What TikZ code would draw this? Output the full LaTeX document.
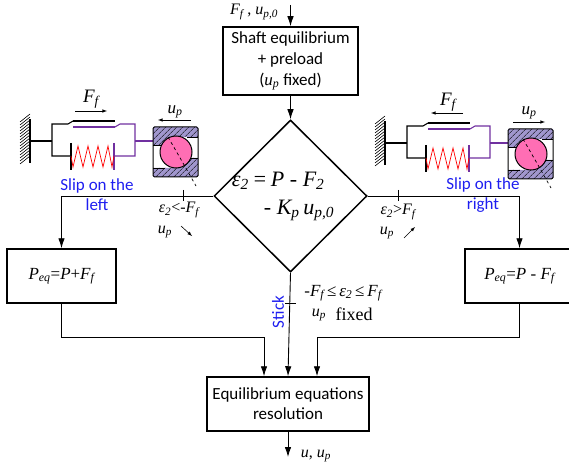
\documentclass[tikz,border=0pt]{standalone}
\usepackage{fontspec}
\setmainfont{Carlito}
\newfontfamily\eqfont{Liberation Serif}
\usetikzlibrary{arrows.meta}
\usetikzlibrary{patterns.meta}
\usetikzlibrary{shapes.geometric}
\definecolor{slipblue}{RGB}{30,30,240}
\definecolor{rodpurple}{RGB}{112,48,160}
\definecolor{racegrey}{RGB}{160,150,205}
\definecolor{ballpink}{RGB}{255,110,180}
\newcommand{\sym}[2]{{\itshape #1}\textsubscript{\itshape #2}}
\tikzset{
    flowbox/.style={draw, line width=1.5pt, fill=white, align=center, inner sep=0pt},
    flow/.style={-{Latex[length=10pt,width=6.5pt]}, line width=0.9pt},
    small arrow/.style={-latex, line width=0.6pt},
    quantity/.style={font=\eqfont\fontsize{16}{18}\selectfont, inner sep=0pt},
    sliplabel/.style={text=slipblue, font=\fontsize{17}{20}\selectfont, align=center, inner sep=0pt},
    racefill/.style={fill=racegrey, postaction={pattern={Lines[angle=45,distance=4pt,line width=0.5pt]}}},
    mechanism/.pic={
        % wall
        \draw[line width=1.6pt] (30,119) -- (30,163);
        \foreach \y in {122,125,...,164}
            \draw[line width=0.6pt] (20,\y) -- (30,\y-8);
        \draw[line width=1.6pt] (30,141) -- (52,141);
        % fork and friction pad
        \draw[line width=1.1pt] (71,156) -- (52,156) -- (52,124) -- (68,124) -- (73,121);
        \draw[line width=2pt] (73,121) -- (115,121);
        \draw[rodpurple, line width=2pt] (73,127) -- (115,127);
        \draw[rodpurple, line width=1.1pt] (115,127) -- (120,124) -- (135,124) -- (135,156) -- (114,156);
        \draw[rodpurple, line width=1.1pt] (135,141) -- (153,141);
        % spring
        \draw[line width=1.1pt] (71,143) -- (71,170);
        \draw[rodpurple, line width=1.4pt] (114,143) -- (114,170);
        \draw[red, line width=0.7pt] (71,156) -- (73,167) -- (78,146) -- (83,167) -- (88,146)
            -- (93,167) -- (98,146) -- (103,167) -- (108,146) -- (112,167) -- (114,156);
        % bearing
        \path[racefill] (153,127) -- (198,127) -- (198,137) -- (176,137) -- (165,145) -- (153,145) -- cycle;
        \path[racefill] (153,177) -- (198,177) -- (198,158) -- (187,158) -- (176,168) -- (153,168) -- cycle;
        \draw[line width=1pt, rounded corners=1.5pt] (153,127) rectangle (198,177);
        \draw[line width=0.8pt] (153,145) -- (165,145) (187,137) -- (198,137)
            (153,168) -- (165,168) (187,158) -- (198,158);
        \draw[line width=1pt, fill=ballpink] (176,152) circle (16);
        \draw[line width=0.7pt, dashed] (168,137) -- (183,163) -- (196,186);
    },
}
\begin{document}
\begin{tikzpicture}[x=1pt, y=-1pt]
    \useasboundingbox (0,0) rectangle (569,470);

    \pic at (0,0) {mechanism};
    \pic at (355,2) {mechanism};

    \node[flowbox, minimum width=135pt, minimum height=68pt, font=\fontsize{17}{21}\selectfont] (shaft) at (290.5,61)
        {Shaft equilibrium\\+ preload\\({\eqfont\itshape u\textsubscript{p}} fixed)};
    \node[draw, diamond, line width=1.5pt, inner sep=0pt, minimum width=153pt, minimum height=152pt] (split) at (290.5,196) {};
    \node[inner sep=0pt, align=left, font=\eqfont\fontsize{22}{28}\selectfont] (balance) at (283,196)
        {\itshape ε\textsubscript{2}\,=\,P - F\textsubscript{2}\\
         \hspace*{32pt}\itshape - K\textsubscript{p}\,u\textsubscript{p,0}};
    \node[flowbox, minimum width=109pt, minimum height=54pt, font=\eqfont\fontsize{17}{20}\selectfont] (pleft) at (61.5,276)
        {\sym{P}{eq}={\itshape P}+\sym{F}{f}};
    \node[flowbox, minimum width=109pt, minimum height=54pt, font=\eqfont\fontsize{17}{20}\selectfont] (pright) at (519.5,276)
        {\sym{P}{eq}={\itshape P} - \sym{F}{f}};
    \node[flowbox, minimum width=162pt, minimum height=54pt, font=\fontsize{17}{20}\selectfont] (solve) at (288,404)
        {Equilibrium equations\\resolution};

    \coordinate (infeed) at (290.5,5);
    \coordinate (outfeed) at (288,457);
    \coordinate (joinL) at (264,337);
    \coordinate (joinR) at (317,337);

    \draw[flow] (infeed) -- (shaft.north);
    \draw[flow] (shaft.south) -- (split.north);
    \draw[flow] (split.west) -| (pleft.north);
    \draw[flow] (split.east) -| (pright.north);
    \draw[flow] (split.south) -- (solve.north);
    \draw[flow] (pleft.south) |- (joinL) -- (joinL |- solve.north);
    \draw[flow] (pright.south) |- (joinR) -- (joinR |- solve.north);
    \draw[flow] (solve.south) -- (outfeed);

    % ticks on the branches
    \draw[line width=0.6pt] (183,190) -- (183,201);
    \draw[line width=0.6pt] (398,190) -- (398,201);
    \draw[line width=0.6pt] (285,303) -- (296,303);

    % labels over the mechanisms
    \node[quantity, font=\eqfont\fontsize{19}{22}\selectfont] (forceL) at (91,99) {\sym{F}{f}};
    \coordinate (forceLa) at (75,111);
    \coordinate (forceLb) at (107,111);
    \draw[small arrow] (forceLa) -- (forceLb);
    \node[quantity, font=\eqfont\fontsize{17}{20}\selectfont] (upL) at (175,112) {\sym{u}{p}};
    \coordinate (upLa) at (191,120);
    \coordinate (upLb) at (158,120);
    \draw[small arrow] (upLa) -- (upLb);
    \node[quantity, font=\eqfont\fontsize{19}{22}\selectfont] (forceR) at (448,102) {\sym{F}{f}};
    \coordinate (forceRa) at (463,113);
    \coordinate (forceRb) at (431,113);
    \draw[small arrow] (forceRa) -- (forceRb);
    \node[quantity, font=\eqfont\fontsize{17}{20}\selectfont] (upR) at (529,113) {\sym{u}{p}};
    \coordinate (upRa) at (513,122);
    \coordinate (upRb) at (545,122);
    \draw[small arrow] (upRa) -- (upRb);

    \node[sliplabel] (slipL) at (97,195) {Slip on the\\left};
    \node[sliplabel] (slipR) at (483,195) {Slip on the\\right};
    \node[sliplabel, rotate=90] (stick) at (278,312) {Stick};

    % branch conditions
    \node[quantity] (condL) at (179,210) {\sym{ε}{2}<-\sym{F}{f}};
    \node[quantity] (condLu) at (165,232) {\sym{u}{p}};
    \coordinate (condLa) at (181,226);
    \coordinate (condLb) at (192,236);
    \draw[small arrow] (condLa) -- (condLb);
    \node[quantity] (condR) at (398,212) {\sym{ε}{2}>\sym{F}{f}};
    \node[quantity] (condRu) at (387,233) {\sym{u}{p}};
    \coordinate (condRa) at (404,238);
    \coordinate (condRb) at (415,227);
    \draw[small arrow] (condRa) -- (condRb);
    \node[quantity, font=\eqfont\fontsize{17}{20}\selectfont] (condS) at (343,293) {-\sym{F}{f}\,≤\,\sym{ε}{2}\,≤\,\sym{F}{f}};
    \node[quantity] (condSu) at (319,315) {\sym{u}{p}};
    \node[quantity, font=\eqfont\fontsize{18}{20}\selectfont] (condSf) at (354,314) {fixed};

    \node[quantity] (inlabel) at (254,12) {\sym{F}{f} , \sym{u}{p,0}};
    \node[quantity] (outlabel) at (316,456) {{\itshape u}, \sym{u}{p}};
\end{tikzpicture}
\end{document}
